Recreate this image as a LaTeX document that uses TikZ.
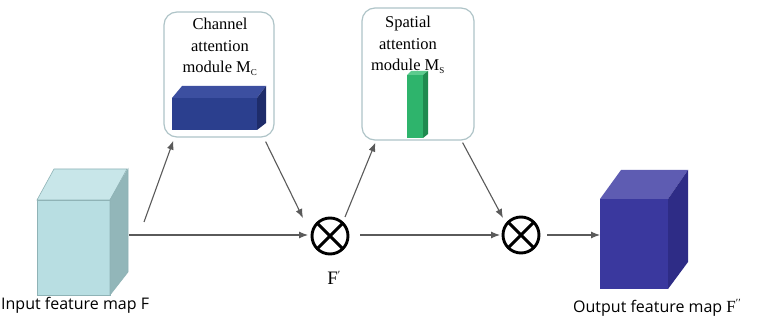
\documentclass[tikz,border=0pt]{standalone}
\usepackage{fontspec}
\setmainfont{Liberation Serif}
\newfontfamily\labfont{Open Sans}
\usetikzlibrary{arrows.meta,calc}
\definecolor{arrowgray}{HTML}{5A5A5A}
\definecolor{boxedge}{HTML}{AFC4C8}
\definecolor{inFront}{HTML}{B8DEE2}
\definecolor{inTop}{HTML}{C8E6E9}
\definecolor{inSide}{HTML}{92B6B9}
\definecolor{inEdge}{HTML}{8FB3B6}
\definecolor{outFront}{HTML}{3A389E}
\definecolor{outTop}{HTML}{5E5CB2}
\definecolor{outSide}{HTML}{2E2C86}
\definecolor{chFront}{HTML}{2B3F8E}
\definecolor{chTop}{HTML}{3C4FA0}
\definecolor{chSide}{HTML}{1E2C6A}
\definecolor{spFront}{HTML}{2EB46C}
\definecolor{spTop}{HTML}{5CCB8E}
\definecolor{spSide}{HTML}{1F8A4F}
\tikzset{
  modbox/.style={draw=boxedge, line width=1.2pt, rounded corners=13pt, fill=white, inner sep=0pt},
  conn/.style={draw=arrowgray, line width=1.1pt, -{Latex[length=9pt,width=7pt]}},
  mult/.style={circle, draw=black, line width=2.9pt, minimum size=36pt, inner sep=0pt,
    path picture={\draw[line width=2.9pt] (path picture bounding box.north west) -- (path picture bounding box.south east)
      (path picture bounding box.north east) -- (path picture bounding box.south west);}},
  face/.style={inner sep=0pt, outer sep=0pt},
  modtext/.style={align=center, font=\fontsize{16.5}{21.5}\selectfont},
  labtext/.style={font=\labfont\fontsize{16}{18}\selectfont, inner sep=0pt}
}
\begin{document}
\begin{tikzpicture}[x=1pt,y=-1pt]
\useasboundingbox[fill=white] (0,0) rectangle (760,323);

% modules
\node[modbox, minimum width=110pt, minimum height=125pt] (cam) at (219,74.5) {};
\node[modbox, minimum width=112pt, minimum height=132pt] (sam) at (418,74) {};
\node[modtext] (camt) at (220,47) {Channel\\attention\\module M\textsubscript{\fontsize{9}{9}\selectfont C}};
\node[modtext] (samt) at (408,45) {Spatial\\attention\\module M\textsubscript{\fontsize{9}{9}\selectfont S}};

% channel cuboid
\node[face, fill=chFront, minimum width=85pt, minimum height=32pt] (chf) at (214.5,114) {};
\fill[chTop] (chf.north west) -- ++(10,-12) -- ++(84,0) -- (chf.north east) -- cycle;
\fill[chSide] (chf.north east) -- ++(9,-12) -- ++(0,37) -- (chf.south east) -- cycle;

% spatial bar
\node[face, fill=spFront, minimum width=16pt, minimum height=63pt] (spf) at (415,106.5) {};
\fill[spTop] (spf.north west) -- ++(4,-4) -- ++(17,0) -- (spf.north east) -- cycle;
\fill[spSide] (spf.north east) -- ++(5,-4) -- ++(0,63) -- (spf.south east) -- cycle;

% input cube
\node[face, fill=inFront, draw=inEdge, line width=0.6pt, minimum width=73pt, minimum height=95pt] (in) at (73.5,247.5) {};
\filldraw[fill=inTop, draw=inEdge, line width=0.6pt] (in.north west) -- ++(17,-31) -- ++(73,0) -- (in.north east) -- cycle;
\filldraw[fill=inSide, draw=inEdge, line width=0.6pt] (in.north east) -- ++(18,-31) -- ++(0,103) -- (in.south east) -- cycle;
\coordinate (inS) at (129,235);

% output cube
\node[face, fill=outFront, minimum width=68pt, minimum height=90pt] (out) at (634,244) {};
\fill[outTop] (out.north west) -- ++(21,-29) -- ++(67,0) -- (out.north east) -- cycle;
\fill[outSide] (out.north east) -- ++(20,-29) -- ++(0,92) -- (out.south east) -- cycle;

% multipliers
\node[mult] (m1) at (330,236) {};
\node[mult] (m2) at (521,235) {};

% labels
\node[labtext, anchor=west] (inl) at (1,305) {Input feature map F};
\node[labtext, anchor=west] (outl) at (573,308) {Output feature map \textrm{\fontsize{17}{17}\selectfont F\textsuperscript{\fontsize{11}{11}\selectfont ′′}}};
\node[font=\fontsize{19}{19}\selectfont, inner sep=0pt] (fp) at (334,278) {F\textsuperscript{\fontsize{11}{11}\selectfont ′}};

% connectors
\draw[conn] (inS) -- ([xshift=-22pt]m1.center |- inS);
\draw[conn] ([shift={(34,22)}]in.north east) -- ([shift={(10,3)}]cam.south west);
\draw[conn] ([shift={(-9,4)}]cam.south east) -- ([shift={(-27,-18)}]m1.center);
\draw[conn] ([shift={(15,-19)}]m1.center) -- ([shift={(14,2)}]sam.south west);
\draw[conn] ([shift={(-12,2)}]sam.south east) -- ([shift={(-18,-17)}]m2.center);
\draw[conn] ([shift={(30,-1)}]m1.center) -- ([shift={(-21,0)}]m2.center);
\draw[conn] ([shift={(26,0)}]m2.center) -- ([yshift=9pt]out.west);
\end{tikzpicture}
\end{document}
